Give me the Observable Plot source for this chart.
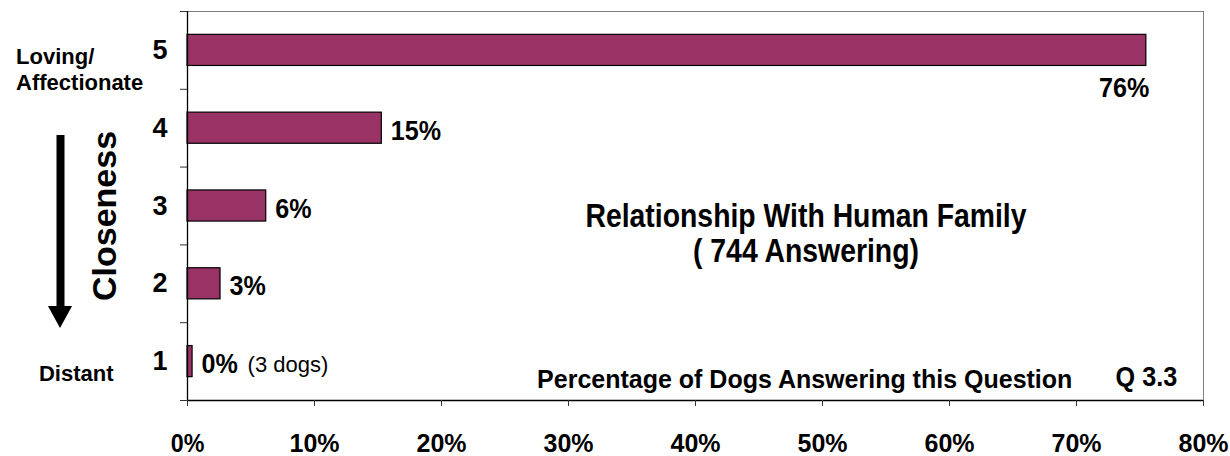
<!DOCTYPE html>
<html><head><meta charset="utf-8">
<script src="https://cdn.jsdelivr.net/npm/d3@7"></script>
<script src="https://cdn.jsdelivr.net/npm/@observablehq/plot@0.6"></script>
<style>
body{margin:0;background:#fff}
#chart svg{font-family:"Liberation Sans",Arial,sans-serif;background:#fff}
</style>
</head><body><div id="chart"></div>
<script>
const ratings = [5, 4, 3, 2, 1];
const percents = [75.5, 15.3, 6.2, 2.6, 0.4];
const valueLabels = ["76%", "15%", "6%", "3%", "0%"];
const xTicks = [0, 10, 20, 30, 40, 50, 60, 70, 80];
const yTickLabels = ["5", "4", "3", "2", "1"];
const titleLines = ["Relationship With Human Family", "( 744 Answering)"];
const xTitle = "Percentage of Dogs Answering this Question";
const question = "Q 3.3";
const topLabel = "Loving/\nAffectionate";
const bottomLabel = "Distant";
const sideLabel = "Closeness";
const note = "(3 dogs)";

const data = ratings.map((r, i) => ({r, pct: percents[i], label: valueLabels[i]}));
const boundaries = [ratings[ratings.length - 1] - 0.5, ...ratings.map(r => r + 0.5)];
const F = {fontWeight: "bold"};
const INK = "#000";

const chart = Plot.plot({
  width: 1230, height: 456,
  marginLeft: 187, marginRight: 27, marginTop: 11, marginBottom: 56,
  x: {domain: [0, 80], label: null},
  y: {domain: [0.5, 5.5], label: null},
  style: {fontFamily: '"Liberation Sans", Arial, sans-serif', color: "#000", background: "#fff"},
  marks: [
    Plot.frame({stroke: "#808080"}),
    Plot.rectX(data, {x1: 0, x2: "pct", y1: d => d.r - 0.2, y2: d => d.r + 0.2, fill: "#993366", stroke: INK, strokeWidth: 1.2}),
    Plot.ruleX([0], {stroke: INK, strokeWidth: 1.3}),
    Plot.ruleY([boundaries[0]], {stroke: INK, strokeWidth: 1.3}),
    Plot.axisY({ticks: boundaries, tickFormat: () => "", tickSize: 7, stroke: "#333"}),
    Plot.axisY({ticks: ratings, tickFormat: (d, i) => yTickLabels[i], tickSize: 0, tickPadding: 20, fontSize: 27, ...F}),
    Plot.axisX({ticks: xTicks, tickFormat: d => d + "%", tickSize: 6, tickPadding: 28, fontSize: 25, stroke: "#333", ...F}),
    // value labels
    Plot.text(data.filter(d => d.r === 5), {x: "pct", y: "r", text: "label", textAnchor: "end", dx: 3, dy: 38, fontSize: 27, ...F}),
    Plot.text(data.filter(d => d.r !== 5), {x: "pct", y: "r", text: "label", textAnchor: "start", dx: 9, dy: 3, fontSize: 27, ...F}),
    Plot.text(data.filter(d => d.r === 1), {x: "pct", y: "r", text: () => note, textAnchor: "start", dx: 55, dy: 3, fontSize: 22}),
    // annotations
    Plot.text([titleLines.join("\n")], {x: 48.7, y: 3, dy: 27.5, fontSize: 33, lineHeight: 1.06, ...F}),
    Plot.text([xTitle], {x: 48.6, y: 1, dy: 18, fontSize: 25, ...F}),
    Plot.text([question], {x: 75.5, y: 1, dy: 15, fontSize: 28, ...F}),
    Plot.text([topLabel], {x: -13.5, y: 5, dy: 18, textAnchor: "start", fontSize: 22, lineHeight: 1.18, ...F}),
    Plot.text([bottomLabel], {x: -11.7, y: 1, dy: 12, textAnchor: "start", fontSize: 22, ...F}),
    Plot.text([sideLabel], {x: -6.5, y: 3, dy: 10, rotate: -90, fontSize: 34, ...F}),
    Plot.ruleX([-10], {y1: 3.906, y2: 1.69, stroke: INK, strokeWidth: 8}),
    Plot.areaX([{y: 1.708, x1: -10.95, x2: -9.05}, {y: 1.425, x1: -10, x2: -10}], {y: "y", x1: "x1", x2: "x2", fill: INK})
  ]
});

// horizontally condense some labels to match the narrow lettering of the original
function squeeze(svg, test, sx) {
  d3.select(svg).selectAll("text").filter(function () { return test(this.textContent); }).each(function () {
    const t = this.getAttribute("transform");
    if (t) this.setAttribute("transform", t + ` scale(${sx},1)`);
    else {
      const x = +this.getAttribute("x") || 0;
      this.setAttribute("transform", `translate(${x},0) scale(${sx},1) translate(${-x},0)`);
    }
  });
}
squeeze(chart, s => s.startsWith(titleLines[0]), 0.86);
squeeze(chart, s => s === question, 0.9);
squeeze(chart, s => valueLabels.includes(s), 0.93);

document.getElementById("chart").append(chart);
</script>
</body></html>
